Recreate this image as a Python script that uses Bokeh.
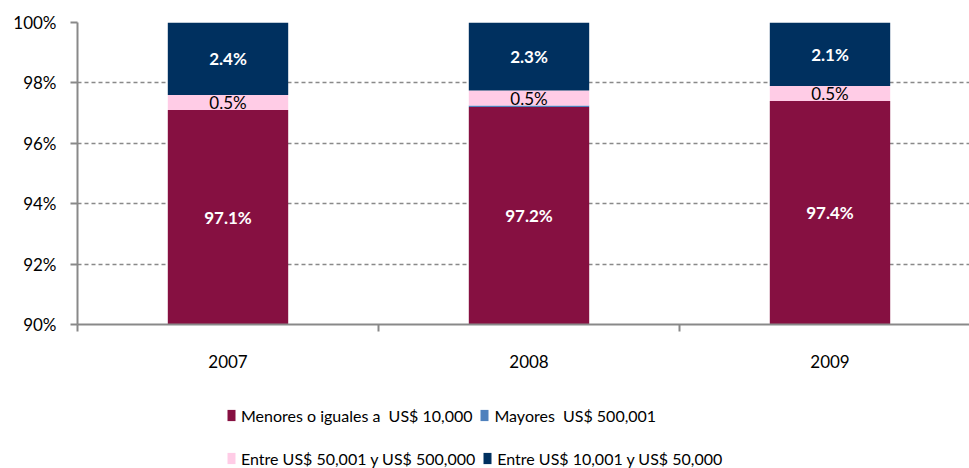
from bokeh.plotting import figure
from bokeh.layouts import column
from bokeh.models import Range1d, FixedTicker, ColumnDataSource, Legend, LegendItem
from bokeh.core.properties import value
from bokeh.embed import file_html
from bokeh.resources import INLINE

years = ["2007", "2008", "2009"]
menores = [97.1, 97.2, 97.4]
mayores = [0.0, 0.05, 0.0]
entre_50k_500k = [0.5, 0.5, 0.5]
entre_10k_50k = [2.4, 2.3, 2.1]

series_names = ["Menores o iguales a  US$ 10,000", "Mayores  US$ 500,001",
                "Entre US$ 50,001 y US$ 500,000", "Entre US$ 10,001 y US$ 50,000"]
colors = ["#861041", "#4F81BD", "#FFCCE6", "#00305F"]

y_ticks = [90, 92, 94, 96, 98, 100]
y_tick_labels = ["90%", "92%", "94%", "96%", "98%", "100%"]

FONT = "Lato"
AX = "#898989"

x = [i + 0.5 for i in range(len(years))]
src = ColumnDataSource(dict(x=x, a=menores, b=mayores, c=entre_50k_500k, d=entre_10k_50k))

W = 969
LEFT, TOP = 77, 22
H1 = 390
FRAME_BOTTOM = 324
H2 = 468 - H1

p = figure(width=W, height=H1, output_backend="svg", toolbar_location=None,
           x_range=Range1d(0, (W - LEFT) / 301), y_range=Range1d(90, 100),
           min_border_left=LEFT, min_border_right=0, min_border_top=TOP,
           min_border_bottom=H1 - FRAME_BOTTOM)
p.outline_line_color = None
p.background_fill_color = "white"

rs = p.vbar_stack(["a", "b", "c", "d"], x="x", width=0.4, source=src, color=colors,
                  line_color=None)

# labels
base = 90
lab_x, lab_y, lab_t, lab_c, lab_s = [], [], [], [], []
for i in range(len(years)):
    top_a = menores[i]
    lab_x.append(x[i]); lab_y.append((base + top_a) / 2); lab_t.append(f"{menores[i]:.1f}%")
    lab_c.append("white"); lab_s.append("bold")
    b0 = top_a + mayores[i]
    c1 = b0 + entre_50k_500k[i]
    lab_x.append(x[i]); lab_y.append((b0 + c1) / 2); lab_t.append(f"{entre_50k_500k[i]:.1f}%")
    lab_c.append("black"); lab_s.append("normal")
    d1 = c1 + entre_10k_50k[i]
    lab_x.append(x[i]); lab_y.append((c1 + min(d1, 100)) / 2); lab_t.append(f"{entre_10k_50k[i]:.1f}%")
    lab_c.append("white"); lab_s.append("bold")
lsrc = ColumnDataSource(dict(x=lab_x, y=lab_y, t=lab_t, c=lab_c, s=lab_s))
p.text(x="x", y="y", text="t", source=lsrc, text_color="c", text_font_style="s",
       text_font=value(FONT), text_font_size="17px", text_align="center", text_baseline="middle")

# axes
p.xaxis.ticker = FixedTicker(ticks=x, minor_ticks=[0, 1, 2, 3])
p.xaxis.major_label_overrides = {x[i]: years[i] for i in range(len(years))}
p.xaxis.major_tick_out = 0
p.xaxis.major_tick_in = 0
p.xaxis.minor_tick_out = 7
p.xaxis.minor_tick_in = 0
p.xaxis.minor_tick_line_color = AX
p.xaxis.minor_tick_line_width = 2
p.xaxis.axis_line_color = AX
p.xaxis.axis_line_width = 2
p.xaxis.major_label_text_font = FONT
p.xaxis.major_label_text_font_size = "17px"
p.xaxis.major_label_text_color = "black"
p.xaxis.major_label_standoff = 23

p.yaxis.ticker = FixedTicker(ticks=y_ticks, minor_ticks=[])
p.yaxis.major_label_overrides = {t: l for t, l in zip(y_ticks, y_tick_labels)}
p.yaxis.major_tick_out = 7
p.yaxis.major_tick_in = 0
p.yaxis.major_tick_line_color = AX
p.yaxis.major_tick_line_width = 2
p.yaxis.axis_line_color = AX
p.yaxis.axis_line_width = 2
p.yaxis.major_label_text_font = FONT
p.yaxis.major_label_text_font_size = "17px"
p.yaxis.major_label_text_color = "black"
p.yaxis.major_label_standoff = 14

p.xgrid.grid_line_color = None
p.ygrid.grid_line_color = AX
p.ygrid.grid_line_dash = "4 3"
p.ygrid.grid_line_width = 1.5

# legend strip (its frame is aligned with the chart frame by the column layout)
q = figure(width=W, height=H2, output_backend="svg", toolbar_location=None,
           x_range=Range1d(0, 1), y_range=Range1d(0, 1),
           min_border_left=LEFT, min_border_right=0, min_border_top=0, min_border_bottom=0,
           x_axis_type=None, y_axis_type=None)
q.outline_line_color = None
q.grid.visible = False
# proxy renderers for legend swatches, placed outside the visible range
lr = [q.vbar(x=[-5], top=[-5], bottom=[-6], width=0.1, color=c, line_color=None) for c in colors]

def mk_legend(idx, loc):
    items = [LegendItem(label=series_names[i], renderers=[lr[i]]) for i in idx]
    return Legend(items=items, orientation="horizontal", location=loc, padding=0, margin=0,
                  spacing=7, label_standoff=5, glyph_width=10, glyph_height=14,
                  label_height=20, label_text_font=FONT, label_text_color="black",
                  label_text_font_size="16px", border_line_color=None,
                  background_fill_alpha=0)

q.add_layout(mk_legend([0, 1], (226 - LEFT, H2 - 35)), "center")
q.add_layout(mk_legend([2, 3], (226 - LEFT, 0)), "center")

layout = column(p, q, spacing=0)
open("out.html", "w").write(file_html(layout, INLINE))
